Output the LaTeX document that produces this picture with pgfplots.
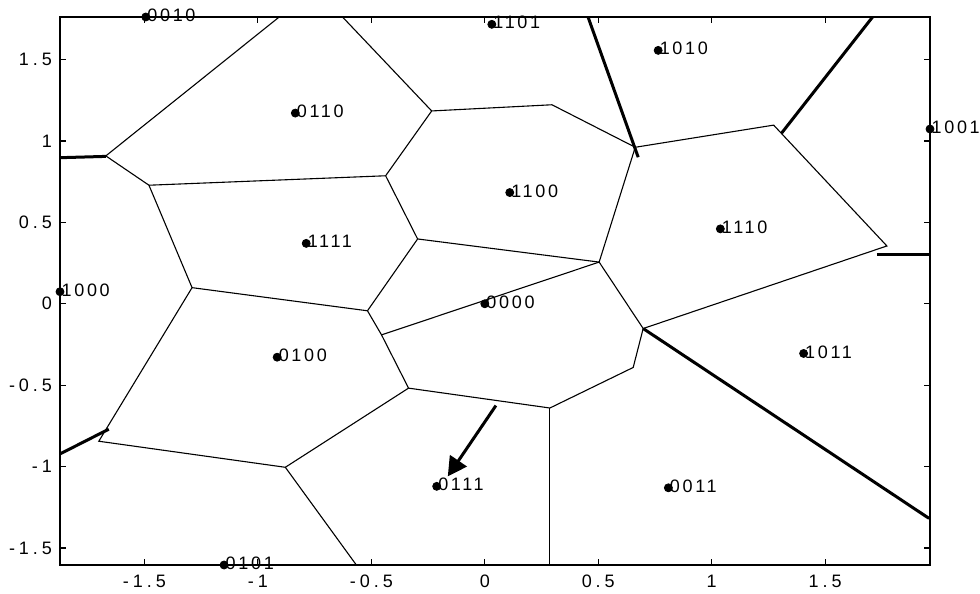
\documentclass[border=0pt]{standalone}
\usepackage{pgfplots}
\pgfplotsset{compat=1.18}
\usepackage{fontspec}
\setmainfont{Liberation Sans}[LetterSpace=15]
\usetikzlibrary{arrows.meta}

\begin{document}
\begin{tikzpicture}
\begin{axis}[
  scale only axis, width=435pt, height=274pt,
  xmin=-1.872, xmax=1.962, ymin=-1.604, ymax=1.761,
  clip=false,
  xtick={-1.5,-1,-0.5,0,0.5,1,1.5},
  xticklabels={-1.5,-1,-0.5,0,0.5,1,1.5},
  ytick={-1.5,-1,-0.5,0,0.5,1,1.5},
  yticklabels={-1.5,-1,-0.5,0,0.5,1,1.5},
  tick align=inside,
  major tick length=3pt,
  ticklabel style={font=\fontsize{9}{10}\selectfont\addfontfeatures{LetterSpace=22}},
  xticklabel style={yshift=-1.5pt},
  yticklabel style={xshift=-0.5pt},
  axis line style={line width=0.7pt},
  every tick/.style={black, line width=0.6pt},
]

% Voronoi cell boundaries (thin)
\addplot[black, line width=0.55pt] coordinates {(-0.906,1.761) (-1.670,0.908) (-1.480,0.728) (-1.290,0.099) (-1.701,-0.844) (-0.879,-1.004) (-0.566,-1.604)};
\addplot[black, line width=0.55pt] coordinates {(-1.480,0.728) (-0.437,0.786)};
\addplot[black, line width=0.55pt] coordinates {(-0.627,1.761) (-0.234,1.184) (0.296,1.222) (0.663,0.961) (1.273,1.097) (1.772,0.355) (0.698,-0.152)};
\addplot[black, line width=0.55pt] coordinates {(-0.437,0.786) (-0.234,1.184)};
\addplot[black, line width=0.55pt] coordinates {(-0.437,0.786) (-0.296,0.398) (-0.517,-0.043)};
\addplot[black, line width=0.55pt] coordinates {(-1.290,0.099) (-0.517,-0.043)};
\addplot[black, line width=0.55pt] coordinates {(-0.296,0.398) (0.504,0.256) (0.663,0.961)};
\addplot[black, line width=0.55pt] coordinates {(0.504,0.256) (0.698,-0.152)};
\addplot[black, line width=0.55pt] coordinates {(0.504,0.256) (-0.455,-0.191)};
\addplot[black, line width=0.55pt] coordinates {(-0.517,-0.043) (-0.455,-0.191) (-0.336,-0.518) (0.287,-0.640) (0.654,-0.391) (0.698,-0.152)};
\addplot[black, line width=0.55pt] coordinates {(0.287,-0.640) (0.287,-1.604)};
\addplot[black, line width=0.55pt] coordinates {(-0.336,-0.518) (-0.879,-1.004)};

% outer boundaries (thick)
\addplot[black, line width=1.5pt] coordinates {(0.455,1.761) (0.676,0.900)};
\addplot[black, line width=1.5pt] coordinates {(1.308,1.048) (1.709,1.761)};
\addplot[black, line width=1.5pt] coordinates {(1.728,0.305) (1.962,0.305)};
\addplot[black, line width=1.5pt] coordinates {(0.698,-0.152) (1.958,-1.318)};
\addplot[black, line width=1.5pt] coordinates {(-1.872,0.897) (-1.670,0.905)};
\addplot[black, line width=1.5pt] coordinates {(-1.872,-0.922) (-1.657,-0.770)};

% arrow
\addplot[black, line width=1.5pt, -{Triangle[length=9.5pt,width=10pt]}] coordinates {(0.049,-0.625) (-0.163,-1.060)};

% signal points with their bit labels
\addplot[only marks, mark=*, mark size=2pt, black,
  point meta=explicit symbolic,
  nodes near coords,
  every node near coord/.append style={anchor=west, inner sep=0pt, xshift=0.6pt, yshift=0.8pt,
    font=\fontsize{9}{10}\selectfont, text=black},
] table[meta=code] {
x y code
-1.494 1.761 0010
0.031 1.716 1101
0.764 1.556 1010
1.962 1.073 1001
-0.835 1.171 0110
0.110 0.683 1100
1.038 0.460 1110
-0.787 0.371 1111
-1.872 0.074 1000
0.000 0.000 0000
-0.915 -0.328 0100
1.405 -0.305 1011
-0.212 -1.121 0111
0.809 -1.130 0011
-1.149 -1.604 0101
};
\end{axis}
\pgfresetboundingbox
\path ([xshift=-30pt,yshift=-14.5pt]current axis.south west) rectangle ([xshift=25pt,yshift=8.5pt]current axis.north east);
\end{tikzpicture}
\end{document}
